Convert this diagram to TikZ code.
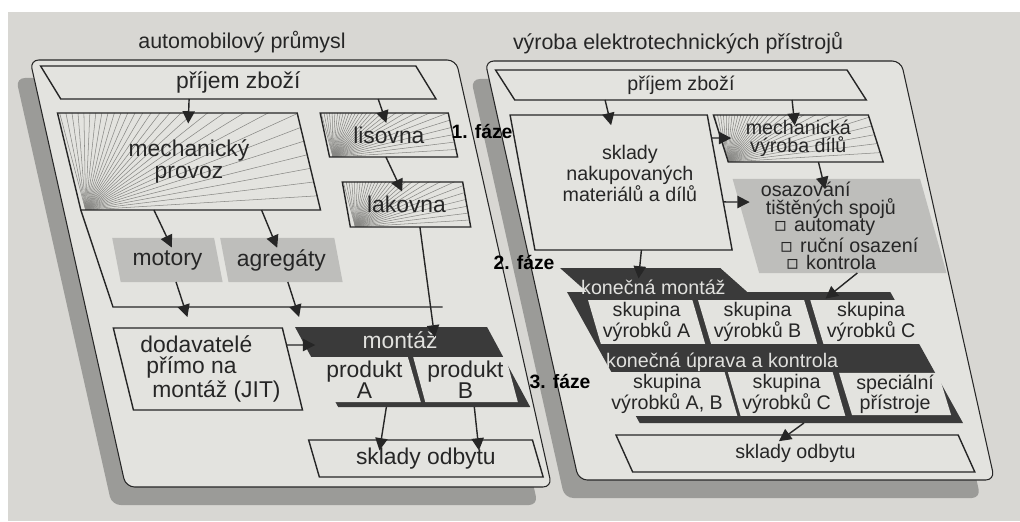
\documentclass[tikz,border=0pt]{standalone}
\usepackage{fontspec}
\setmainfont{Liberation Sans}
\newfontfamily\symfont{DejaVu Sans}
\usetikzlibrary{shapes.geometric,arrows.meta,calc}

\definecolor{paper}{RGB}{216,215,211}
\definecolor{slabc}{RGB}{227,227,223}
\definecolor{side}{RGB}{155,155,152}
\definecolor{ink}{RGB}{38,38,38}
\definecolor{tone}{RGB}{190,190,187}
\definecolor{dark}{RGB}{58,58,58}
\definecolor{headc}{RGB}{225,225,222}
\definecolor{hatchc}{RGB}{135,135,132}

\newcommand\sq{{\symfont ▫}}

\tikzset{
  para/.style={trapezium, trapezium left angle=106.17, trapezium right angle=73.83,
    trapezium stretches=true, inner sep=1pt, outer sep=0pt, align=center, text=ink},
  dims/.style 2 args={minimum width={(#1+0.29*#2)*0.02cm}, minimum height={#2*0.02cm}},
  slab/.style={para, fill=slabc, draw=ink, line width=0.6pt, rounded corners=5pt},
  slabside/.style={para, fill=side, rounded corners=5pt},
  box/.style={para, fill=slabc, draw=ink, line width=0.8pt},
  toned/.style={para, fill=tone},
  darkbox/.style={para, fill=dark},
  inbox/.style={para, fill=slabc},
  hatch/.style={path picture={
    \path let \p1=(path picture bounding box.south west),
              \p2=(path picture bounding box.north east)
      in coordinate (hc) at ({\x1+0.29*(\y2-\y1)},\y1);
    \foreach \a in {0,3.5,...,105}
      \draw[hatchc, line width=0.3pt] (hc) -- ++(\a:12cm);
  }},
  lfont/.style={font=\fontsize{13}{12}\selectfont},
  rfont/.style={font=\fontsize{11.2}{10}\selectfont},
  head/.style={text=headc, anchor=west},
  phase/.style={font=\bfseries\fontsize{11}{12}\selectfont, text=black},
  title/.style={font=\fontsize{12.2}{14}\selectfont, text=ink},
  line/.style={draw=ink, line width=0.8pt},
  flow/.style={->, draw=ink, line width=0.8pt, shorten >=-6pt},
}

\begin{document}
\begin{tikzpicture}[x=0.02cm, y=0.02cm, >={Triangle[length=7pt,width=7pt]}]
\useasboundingbox (0,0) rectangle (1020,521);
\fill[paper] (0,0) rectangle (1020,521);
\fill[white] (0,509) rectangle (1020,521);
\fill[white] (0,0) rectangle (8,521);

% slabs
\node[slabside, dims={398}{427}] (panelLs) at (276.9,229.5) {};
\node[slab, dims={398}{427}] (panelL) at (290.9,247.5) {};
\node[slabside, dims={388}{419}] (panelRs) at (725.8,232.5) {};
\node[slab, dims={388}{419}] (panelR) at (739.8,250.5) {};

\node[title] (titleL) at (242,479) {automobilový průmysl};
\node[title] (titleR) at (678,478) {výroba elektrotechnických přístrojů};

% automobilovy prumysl
\node[box, lfont, dims={387}{33}] (prijemL) at (238.3,438.5) {příjem zboží};
\node[box, hatch, lfont, dims={236}{97}] (mech) at (189,359.5) {mechanický\\provoz};
\node[box, hatch, lfont, dims={125}{44}] (lisovna) at (388.9,386) {lisovna};
\node[box, hatch, lfont, dims={116}{45}] (lakovna) at (406.5,316.5) {lakovna};
\node[toned, lfont, dims={98}{44}] (motory) at (167.4,261) {motory};
\node[toned, lfont, dims={110}{44}] (agregaty) at (281.4,261) {agregáty};
\node[box, lfont, align=left, dims={148}{82}] (dodav) at (207.9,152)
  {\hspace*{3pt}dodavatelé\\\hspace*{6.4pt}přímo na\\\hspace*{9.8pt}montáž (JIT)};
\node[darkbox, dims={212}{80}] (montaz) at (412.6,154) {};
\node[lfont, text=headc] (montazT) at (400,181) {montáž};
\node[inbox, lfont, dims={100}{45}] (prodA) at (364.5,141.5) {produkt\\A};
\node[inbox, lfont, dims={92}{45}] (prodB) at (465.5,141.5) {produkt\\B};
\node[box, lfont, dims={225}{37}] (skladL) at (425.9,62.5) {sklady odbytu};
\coordinate (busL) at (113,214);
\coordinate (busR) at (442.5,214);

% vyroba elektrotechnickych pristroju
\node[box, rfont, dims={363}{30}] (prijemR) at (680.9,436) {příjem zboží};
\node[box, rfont, dims={183}{135}] (skladyN) at (621.1,338.5)
  {\hspace*{10pt}sklady\\\hspace*{10pt}nakupovaných\\\hspace*{10pt}materiálů a dílů\\~};
\node[box, hatch, rfont, dims={157}{47}] (mechV) at (798.3,382.5) {mechanická\\výroba dílů};
\node[toned, rfont, align=left, dims={152}{94}] (osaz) at (839.6,295)
  {osazování\\\hspace*{2.8pt}tištěných spojů\\\hspace*{7.4pt}\sq\hspace*{4pt}automaty\\
   \hspace*{10.8pt}\sq\hspace*{4pt}ruční osazení\\\hspace*{14.2pt}\sq\hspace*{4pt}kontrola};
\node[darkbox, dims={187}{32}] (kmTab) at (658.1,237) {};
\node[darkbox, dims={358}{131}] (kmBody) at (765,163.5) {};
\node[rfont, head] (kmT) at (575,234) {konečná montáž};
\node[rfont, head] (kuT) at (600,159) {konečná úprava a kontrola};
\node[inbox, rfont, dims={105}{42}] (skA) at (646.6,199) {skupina\\výrobků A};
\node[inbox, rfont, dims={107}{42}] (skB) at (757.6,199) {skupina\\výrobků B};
\node[inbox, rfont, dims={110}{42}] (skC) at (871.1,199) {skupina\\výrobků C};
\node[inbox, rfont, dims={122}{42}] (skAB) at (667.1,127) {skupina\\výrobků A, B};
\node[inbox, rfont, dims={105}{42}] (skC2) at (786.6,127) {skupina\\výrobků C};
\node[inbox, rfont, dims={100}{42}] (spec) at (895.1,127) {speciální\\přístroje};
\node[box, rfont, dims={350}{37}] (skladR) at (795.4,67.5) {sklady odbytu};

% faze
\node[phase] (faze1) at (482,389) {1. fáze};
\node[phase] (faze2) at (524,258) {2. fáze};
\node[phase] (faze3) at (560,139) {3. fáze};

% toky vlevo
\draw[flow] ($(prijemL.bottom left corner)!.342!(prijemL.bottom right corner)$) -- ($(mech.top left corner)!.547!(mech.top right corner)$);
\draw[flow] ($(prijemL.bottom left corner)!.846!(prijemL.bottom right corner)$) -- ($(lisovna.top left corner)!.49!(lisovna.top right corner)$);
\draw[flow] ($(lisovna.bottom left corner)!.44!(lisovna.bottom right corner)$) -- ($(lakovna.top left corner)!.46!(lakovna.top right corner)$);
\draw[flow] ($(lakovna.bottom left corner)!.578!(lakovna.bottom right corner)$) -- ($(montaz.top left corner)!.72!(montaz.top right corner)$);
\draw[flow] ($(mech.bottom left corner)!.305!(mech.bottom right corner)$) -- ($(motory.top left corner)!.54!(motory.top right corner)$);
\draw[flow] ($(mech.bottom left corner)!.754!(mech.bottom right corner)$) -- ($(agregaty.top left corner)!.464!(agregaty.top right corner)$);
\draw[line] (mech.bottom left corner) -- (busL) -- (busR);
\draw[flow] ($(motory.bottom left corner)!.543!(motory.bottom right corner)$) -- ($(busL)!.216!(busR)$);
\draw[flow] ($(agregaty.bottom left corner)!.52!(agregaty.bottom right corner)$) -- ($(busL)!.555!(busR)$);
\draw[flow] ($(dodav.top right corner)!.207!(dodav.bottom right corner)$) -- ($(montaz.top left corner)!.225!(montaz.bottom left corner)$);
\draw[flow] ($(montaz.bottom left corner)!.251!(montaz.bottom right corner)$) -- ($(skladL.top left corner)!.324!(skladL.top right corner)$);
\draw[flow] ($(montaz.bottom left corner)!.709!(montaz.bottom right corner)$) -- ($(skladL.top left corner)!.756!(skladL.top right corner)$);

% toky vpravo
\draw[flow] ($(prijemR.bottom left corner)!.257!(prijemR.bottom right corner)$) -- ($(skladyN.top left corner)!.5!(skladyN.top right corner)$);
\draw[flow] ($(prijemR.bottom left corner)!.789!(prijemR.bottom right corner)$) -- ($(mechV.top left corner)!.518!(mechV.top right corner)$);
\draw[flow] ($(skladyN.top right corner)!.17!(skladyN.bottom right corner)$) -- ($(mechV.top left corner)!.49!(mechV.bottom left corner)$);
\draw[flow] ($(skladyN.top right corner)!.644!(skladyN.bottom right corner)$) -- ($(osaz.top left corner)!.245!(osaz.bottom left corner)$);
\draw[flow] ($(mechV.bottom left corner)!.582!(mechV.bottom right corner)$) -- ($(osaz.top left corner)!.48!(osaz.top right corner)$);
\draw[flow] ($(skladyN.bottom left corner)!.54!(skladyN.bottom right corner)$) -- ($(kmTab.top left corner)!.497!(kmTab.top right corner)$);
\draw[flow] ($(osaz.bottom left corner)!.524!(osaz.bottom right corner)$) -- ($(kmBody.top left corner)!.825!(kmBody.top right corner)$);
\draw[flow] ($(kmBody.bottom left corner)!.508!(kmBody.bottom right corner)$) -- ($(skladR.top left corner)!.501!(skladR.top right corner)$);
\end{tikzpicture}
\end{document}
